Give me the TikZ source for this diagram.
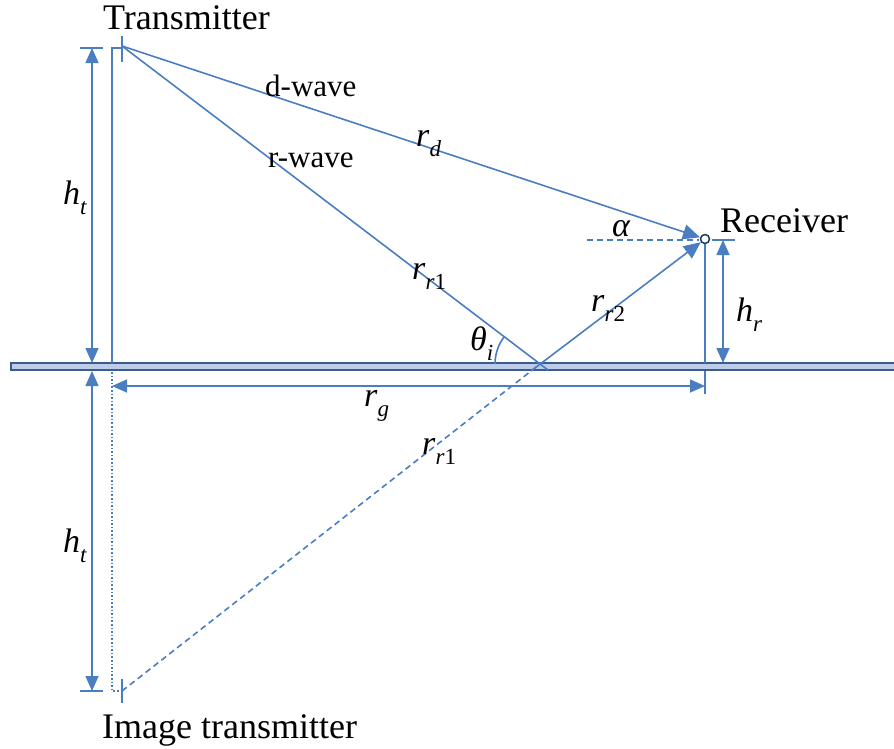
\documentclass[tikz,border=0pt]{standalone}
\usepackage{fontspec}
\setmainfont{Liberation Serif}
\usetikzlibrary{arrows.meta}
\definecolor{wire}{RGB}{74,126,193}
\definecolor{gedge}{RGB}{56,93,138}
\definecolor{gfill}{RGB}{190,204,234}
\definecolor{navy}{RGB}{31,56,100}
\newcommand{\subfnt}{\fontsize{23}{26}\selectfont}
\newcommand{\mv}[2]{\textit{#1}\raisebox{-10pt}{\subfnt #2}}
\tikzset{
  wire/.style={draw=wire, line width=1.6pt},
  tipA/.tip={Triangle[length=15pt,width=13pt]},
  tipB/.tip={Triangle[length=17pt,width=15pt]},
  dimarrow/.style={wire, tipA-tipA},
  bigtxt/.style={font=\fontsize{36}{40}\selectfont, inner sep=0, anchor=base west},
  midtxt/.style={font=\fontsize{31}{36}\selectfont, inner sep=0, anchor=base west},
  mathtxt/.style={font=\fontsize{34}{40}\selectfont, inner sep=0, anchor=base west},
}
\begin{document}
\begin{tikzpicture}[x=1pt,y=-1pt]
\useasboundingbox (0,0) rectangle (894,748);
% ground
\draw[draw=gedge, fill=gfill, line width=1.6pt] (11,363) rectangle (896,370);
% key points
\coordinate (T) at (122,46);
\coordinate (P) at (540,364);
\coordinate (Pa) at (531,371);
\coordinate (Pb) at (548,370);
\coordinate (I) at (122,691);
\coordinate (Rg) at (705,363);
\node[circle, draw=navy, fill=white, line width=1.5pt, minimum size=9pt, inner sep=0] (R) at (705,239) {};
% transmitter pole
\coordinate (Tb) at (112,363);
\coordinate (Tt) at (112,48);
\coordinate (Th) at (122,48);
\draw[wire] (Tb) -- (Tt) -- (Th);
\draw[wire] (122,36) -- (122,62);
% image transmitter
\coordinate (Ib) at (112,372);
\coordinate (Ih) at (112,691);
\draw[wire, dotted, line width=1.4pt] (Ib) -- (Ih) -- (I);
\draw[wire] (122,679) -- (122,703);
% rays
\draw[wire, -tipB] (T) -- (R);
\draw[wire] (T) -- (Pb);
\draw[wire, -tipB] (Pa) -- (R);
\draw[wire, dashed, dash pattern=on 6pt off 4pt] (I) -- (P);
% receiver pole
\draw[wire] (R.south) -- (Rg);
\draw[wire, dashed, dash pattern=on 6pt off 4pt] (587,240) -- (699,240);
% angle arc
\draw[wire] (495,364) arc[start angle=180, end angle=217.3, radius=45];
% dimension: h_t upper
\coordinate (A1) at (92,48);
\coordinate (A2) at (92,363);
\draw[wire] (80,48) -- (103,48);
\draw[dimarrow] (A1) -- (A2);
% h_t lower
\coordinate (B1) at (92,371);
\coordinate (B2) at (92,691);
\draw[wire] (80,691) -- (103,691);
\draw[dimarrow] (B1) -- (B2);
% r_g
\coordinate (G1) at (112,386);
\coordinate (G2) at (705,386);
\draw[wire] (705,371) -- (705,394);
\draw[dimarrow] (G1) -- (G2);
% h_r
\coordinate (H1) at (723,240);
\coordinate (H2) at (723,363);
\draw[wire] (712,240) -- (735,240);
\draw[dimarrow] (H1) -- (H2);
% labels
\node[bigtxt] (lT) at (103,29) {Transmitter};
\node[bigtxt] (lR) at (720,232) {Receiver};
\node[bigtxt] (lI) at (102,738) {Image transmitter};
\node[midtxt] (ld) at (265,96) {d-wave};
\node[midtxt] (lr) at (268,167) {r-wave};
\node[mathtxt] (lrd) at (416,146) {\mv{r}{\textit{d}}};
\node[mathtxt] (lrr1) at (412,279) {\mv{r}{\textit{r}1}};
\node[mathtxt] (lrr2) at (591,311) {\mv{r}{\textit{r}2}};
\node[mathtxt] (lhr) at (736,321) {\mv{h}{\textit{r}}};
\node[mathtxt] (lht1) at (63,204) {\mv{h}{\textit{t}}};
\node[mathtxt] (lht2) at (63,552) {\mv{h}{\textit{t}}};
\node[mathtxt] (lrg) at (364,406) {\mv{r}{\textit{g}}};
\node[mathtxt] (lrr1b) at (422,454) {\mv{r}{\textit{r}1}};
\node[mathtxt] (la) at (612,236) {\textit{α}};
\node[mathtxt] (lth) at (470,350) {\mv{θ}{\textit{i}}};
\end{tikzpicture}
\end{document}
